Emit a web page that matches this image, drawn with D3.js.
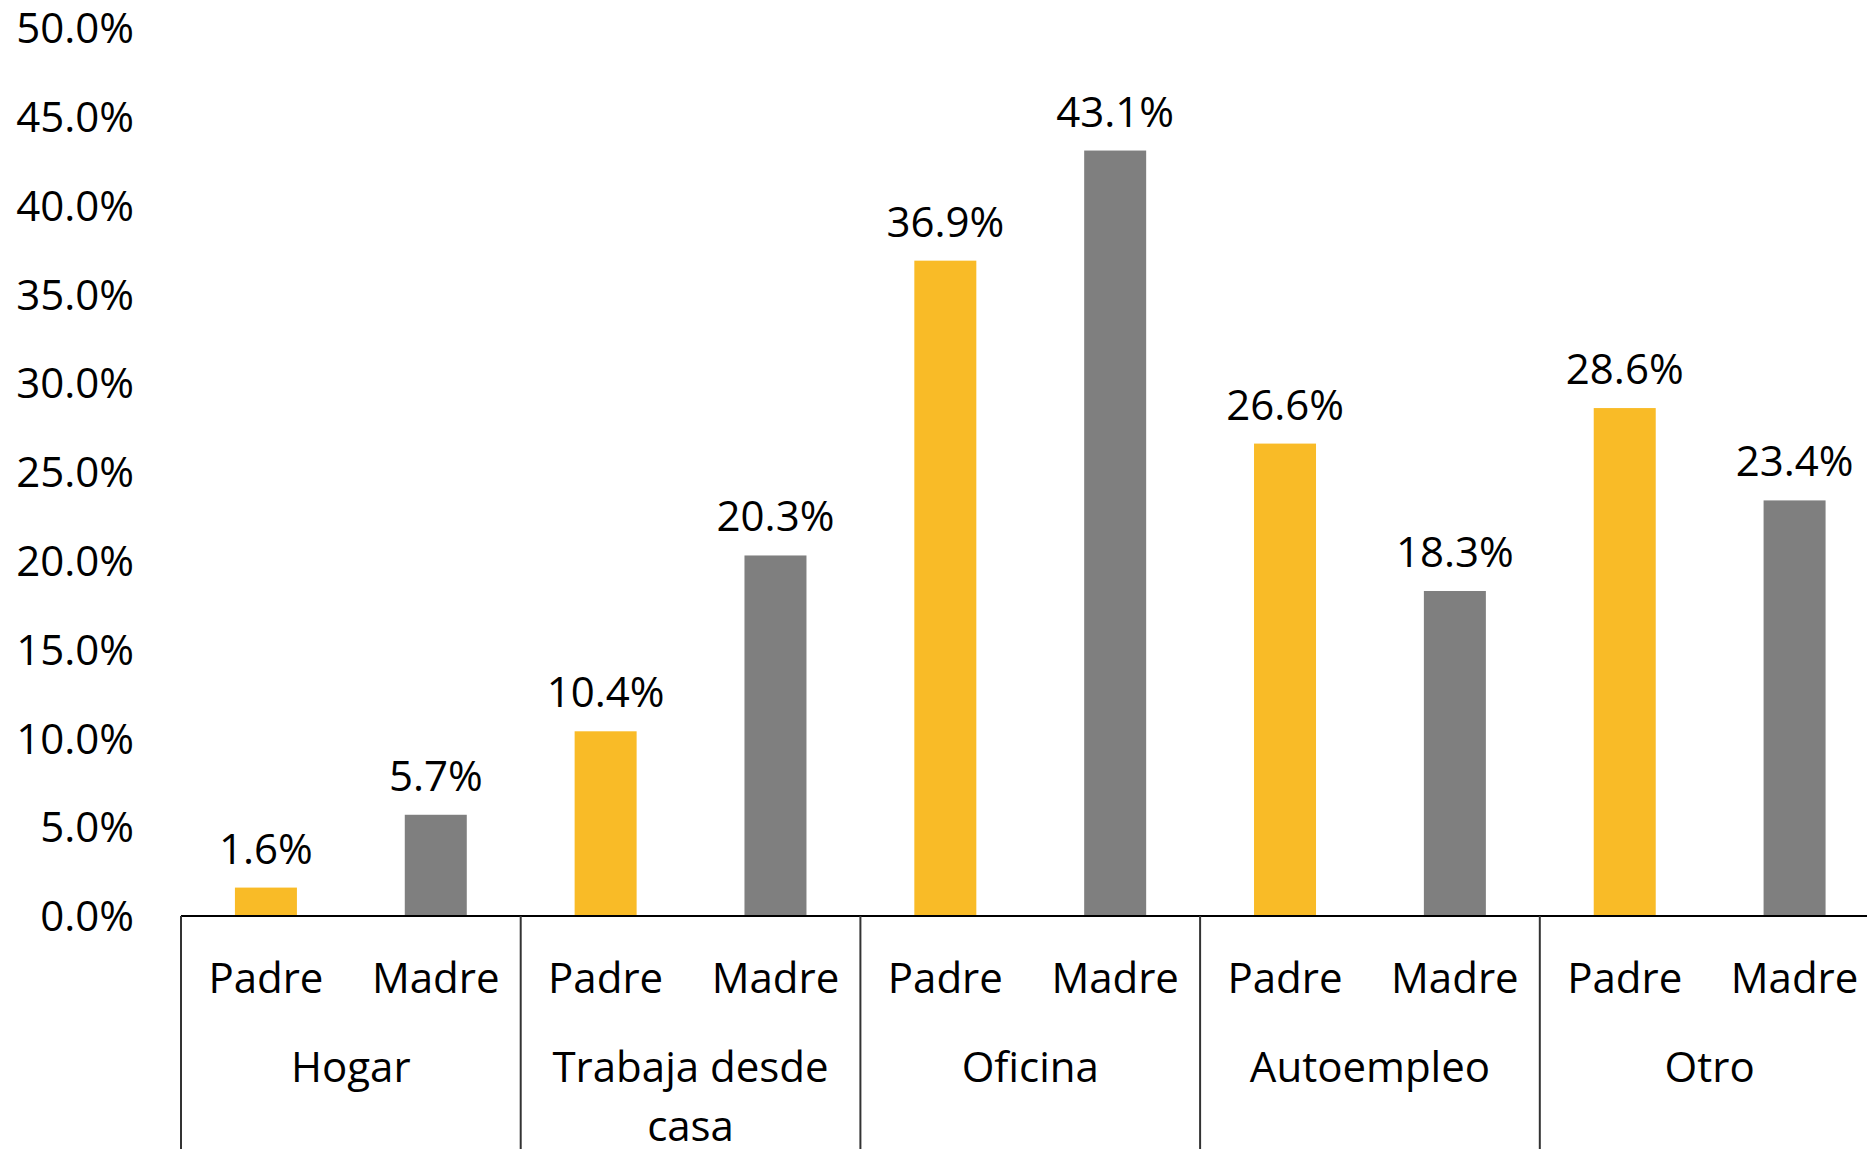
<!DOCTYPE html>
<html>
<head>
<meta charset="utf-8">
<script src="https://cdn.jsdelivr.net/npm/d3@7"></script>
<style>
  body { margin: 0; background: #fff; }
  svg { display: block; font-family: "Open Sans", "Noto Sans", sans-serif; }
  .lbl { font-size: 42px; fill: #000; }
</style>
</head>
<body>
<svg width="1867" height="1149"></svg>
<script>
// data
var groups = ["Hogar", "Trabaja desde casa", "Oficina", "Autoempleo", "Otro"];
var groupLines = [["Hogar"], ["Trabaja desde", "casa"], ["Oficina"], ["Autoempleo"], ["Otro"]];
var parents = ["Padre", "Madre"];
var padreValues = [1.6, 10.4, 36.9, 26.6, 28.6];
var madreValues = [5.7, 20.3, 43.1, 18.3, 23.4];
var yTicks = [0, 5, 10, 15, 20, 25, 30, 35, 40, 45, 50];

var svg = d3.select("svg"),
    width = +svg.attr("width"),
    height = +svg.attr("height");

var chartLeft = 181, chartBase = 916, chartTop = 28,
    groupW = 339.7;

// flatten into 10 bars
var bars = [];
groups.forEach(function (g, i) {
  bars.push({ key: g + "|Padre", group: g, who: "Padre", v: padreValues[i] });
  bars.push({ key: g + "|Madre", group: g, who: "Madre", v: madreValues[i] });
});

var x = d3.scaleBand()
    .domain(bars.map(function (d) { return d.key; }))
    .range([chartLeft, chartLeft + groupW * groups.length])
    .paddingInner(0.635)
    .paddingOuter(0.3175);

var xg = d3.scaleBand()
    .domain(groups)
    .range([chartLeft, chartLeft + groupW * groups.length]);

var y = d3.scaleLinear().domain([0, 50]).range([chartBase, chartTop]);

var color = d3.scaleOrdinal().domain(parents).range(["#F9BB27", "#7F7F7F"]);

// y tick labels (no axis line)
svg.append("g").selectAll("text")
  .data(yTicks)
  .enter().append("text")
    .attr("class", "lbl")
    .attr("x", 134)
    .attr("y", function (d) { return y(d); })
    .attr("dy", "0.36em")
    .attr("text-anchor", "end")
    .text(function (d) { return d.toFixed(1) + "%"; });

// bars
svg.append("g").selectAll("rect")
  .data(bars)
  .enter().append("rect")
    .attr("x", function (d) { return x(d.key); })
    .attr("y", function (d) { return y(d.v); })
    .attr("width", x.bandwidth())
    .attr("height", function (d) { return chartBase - y(d.v); })
    .attr("fill", function (d) { return color(d.who); });

// value labels
svg.append("g").selectAll("text")
  .data(bars)
  .enter().append("text")
    .attr("class", "lbl")
    .attr("x", function (d) { return x(d.key) + x.bandwidth() / 2; })
    .attr("y", function (d) { return y(d.v) - 24; })
    .attr("text-anchor", "middle")
    .text(function (d) { return d.v.toFixed(1) + "%"; });

// category axis: base line + group dividers
svg.append("line")
    .attr("x1", chartLeft).attr("x2", width)
    .attr("y1", chartBase).attr("y2", chartBase)
    .attr("stroke", "#000").attr("stroke-width", 2);

svg.append("g").selectAll("line")
  .data(groups)
  .enter().append("line")
    .attr("x1", function (d) { return xg(d); })
    .attr("x2", function (d) { return xg(d); })
    .attr("y1", chartBase).attr("y2", height)
    .attr("stroke", "#333").attr("stroke-width", 2);

// inner labels
svg.append("g").selectAll("text")
  .data(bars)
  .enter().append("text")
    .attr("class", "lbl")
    .attr("x", function (d) { return x(d.key) + x.bandwidth() / 2; })
    .attr("y", 993)
    .attr("text-anchor", "middle")
    .text(function (d) { return d.who; });

// outer labels
var gl = svg.append("g").selectAll("text")
  .data(groups)
  .enter().append("text")
    .attr("class", "lbl")
    .attr("x", function (d) { return xg(d) + xg.bandwidth() / 2; })
    .attr("y", 1082)
    .attr("text-anchor", "middle");

gl.selectAll("tspan")
  .data(function (d, i) { return groupLines[i]; })
  .enter().append("tspan")
    .attr("x", function () { return d3.select(this.parentNode).attr("x"); })
    .attr("dy", function (d, i) { return i ? 59 : 0; })
    .text(function (d) { return d; });
</script>
</body>
</html>
